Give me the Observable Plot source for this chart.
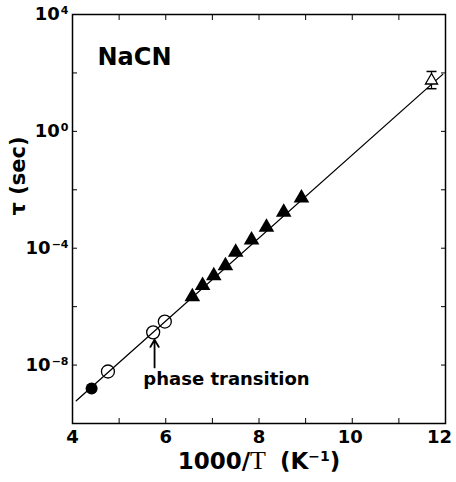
<!DOCTYPE html>
<html><head><meta charset="utf-8">
<script src="https://cdn.jsdelivr.net/npm/d3@7"></script>
<script src="https://cdn.jsdelivr.net/npm/@observablehq/plot@0.6"></script>
<style>body{margin:0;background:#fff}#chart{width:456px;height:482px}</style>
</head><body><div id="chart"></div>
<script>
// ---- data (x = 1000/T in K^-1, values as log10(tau/sec)) ----
const compound = "NaCN";
const filledCircleX = [4.41];
const filledCircleLog = [-8.80];
const openCircleX = [4.76, 5.73, 5.98];
const openCircleLog = [-8.22, -6.88, -6.51];
const triangleX = [6.57, 6.79, 7.03, 7.28, 7.50, 7.84, 8.16, 8.53, 8.91];
const triangleLog = [-5.66, -5.28, -4.94, -4.60, -4.14, -3.72, -3.28, -2.77, -2.28];
const openTriangleX = [11.70];
const openTriangleLog = [1.74];
const errLowLog = [1.46];
const errHighLog = [2.05];
const fitX = [4.08, 11.94];
const fitLog = [-9.22, 1.95];
const arrowX = [5.76];
const arrowFromLog = [-8.08];
const arrowToLog = [-7.13];
const annotationText = ["phase transition"];
const annotationX = [5.52];
const annotationLog = [-8.47];
const xTicks = [4, 5, 6, 7, 8, 9, 10, 11, 12];
const xTickLabels = [4, 6, 8, 10, 12];
const yTickExps = [4, 2, 0, -2, -4, -6, -8];
const yTickLabelExps = [4, 0, -4, -8];
const xTitleParts = ["1000/", "T", " (K", "\u22121", ")"];
const yTitle = "\u03c4 (sec)";

const pow = v => Math.pow(10, v);
const yTicks = yTickExps.map(pow);
const rows = (xs, ls) => xs.map((x, i) => ({x, y: pow(ls[i])}));
const capSymbol = {draw(ctx, size) { const r = Math.sqrt(size / Math.PI); ctx.moveTo(-r, 0); ctx.lineTo(r, 0); }};
const xTitleText = xTitleParts.join("");

const svg = Plot.plot({
  width: 456, height: 482,
  marginLeft: 72, marginRight: 11, marginTop: 14, marginBottom: 59,
  style: {fontFamily: "'DejaVu Sans', sans-serif", fontWeight: "bold", fontSize: "18px", background: "white", color: "black"},
  x: {domain: [4, 12], label: null},
  y: {type: "log", domain: [1e-10, 1e4], label: null},
  marks: [
    Plot.frame({stroke: "black", strokeWidth: 1.5}),
    Plot.axisX({anchor: "bottom", ticks: xTicks, tickSize: 5, dy: -5, tickPadding: 7, label: null,
      tickFormat: d => xTickLabels.includes(d) ? String(d) : "", fontSize: 18}),
    Plot.axisX({anchor: "top", ticks: xTicks, tickSize: 5, dy: 5, label: null, fill: "none"}),
    Plot.axisY({anchor: "left", ticks: yTicks, tickSize: 5, dx: 5, tickPadding: 4, label: null, fontSize: 18,
      tickFormat: d => { const e = Math.round(Math.log10(d)); return yTickLabelExps.includes(e) ? "10^" + (e < 0 ? "\u2212" + (-e) : e) : ""; }}),
    Plot.axisY({anchor: "right", ticks: yTicks, tickSize: 5, dx: -5, label: null, fill: "none"}),
    Plot.line(rows(fitX, fitLog), {x: "x", y: "y", stroke: "black", strokeWidth: 1.3}),
    Plot.dot(rows(filledCircleX, filledCircleLog), {x: "x", y: "y", r: 6, fill: "black"}),
    Plot.dot(rows(openCircleX, openCircleLog), {x: "x", y: "y", r: 6.5, stroke: "black", strokeWidth: 1.3, fill: "none"}),
    Plot.dot(rows(triangleX, triangleLog), {x: "x", y: "y", r: 5.8, symbol: "triangle", fill: "black"}),
    Plot.ruleX(openTriangleX.map((x, i) => ({x, y1: pow(errLowLog[i]), y2: pow(errHighLog[i])})), {x: "x", y1: "y1", y2: "y2", stroke: "black", strokeWidth: 1.2}),
    Plot.dot(rows(openTriangleX, errLowLog).concat(rows(openTriangleX, errHighLog)), {x: "x", y: "y", r: 5, symbol: capSymbol, stroke: "black", strokeWidth: 1.5}),
    Plot.dot(rows(openTriangleX, openTriangleLog), {x: "x", y: "y", r: 4.5, symbol: "triangle", stroke: "black", strokeWidth: 1.3, fill: "white"}),
    Plot.arrow(arrowX.map((x, i) => ({x, y1: pow(arrowFromLog[i]), y2: pow(arrowToLog[i])})), {x1: "x", x2: "x", y1: "y1", y2: "y2", stroke: "black", strokeWidth: 1.8, headLength: 7, bend: 0}),
    Plot.text(annotationText, {x: annotationX, y: annotationLog.map(pow), text: d => d, textAnchor: "start", fontSize: 18}),
    Plot.text([compound], {frameAnchor: "top-left", dx: 25, dy: 33, textAnchor: "start", fontSize: 24}),
    Plot.text([yTitle], {frameAnchor: "left", dx: -54, dy: -43, rotate: -90, textAnchor: "middle", fontSize: 21}),
    Plot.text([xTitleText], {frameAnchor: "bottom", dy: 45, textAnchor: "middle", fontSize: 23})
  ]
});
document.getElementById("chart").append(svg);

const ns = "http://www.w3.org/2000/svg";
svg.querySelectorAll('g[aria-label="y-axis tick label"] text').forEach(t => {
  const s = t.textContent;
  if (!s.includes("^")) return;
  const [base, exp] = s.split("^");
  t.textContent = "";
  const a = document.createElementNS(ns, "tspan"); a.textContent = base;
  const b = document.createElementNS(ns, "tspan"); b.textContent = exp;
  b.setAttribute("font-size", "11"); b.setAttribute("dy", "-6"); b.setAttribute("dx", "1");
  t.append(a, b);
});
svg.querySelectorAll('g[aria-label="x-axis tick label"] text').forEach(t => {
  if (t.textContent === "12") t.setAttribute("dx", "-6");
  if (t.textContent === "10") t.setAttribute("dx", "-2");
});
svg.querySelectorAll("text").forEach(xt => {
  if (xt.textContent !== xTitleText) return;
  xt.textContent = "";
  const mk = (s, attrs) => { const e = document.createElementNS(ns, "tspan"); e.textContent = s; for (const k in attrs) e.setAttribute(k, attrs[k]); xt.append(e); };
  mk(xTitleParts[0], {});
  mk(xTitleParts[1], {"font-family": "'Liberation Serif', serif", "font-weight": "normal", "font-size": "26"});
  mk(xTitleParts[2], {dx: "6"});
  mk(xTitleParts[3], {"font-size": "14", dy: "-8"});
  mk(xTitleParts[4], {dy: "8"});
});
</script></body></html>
